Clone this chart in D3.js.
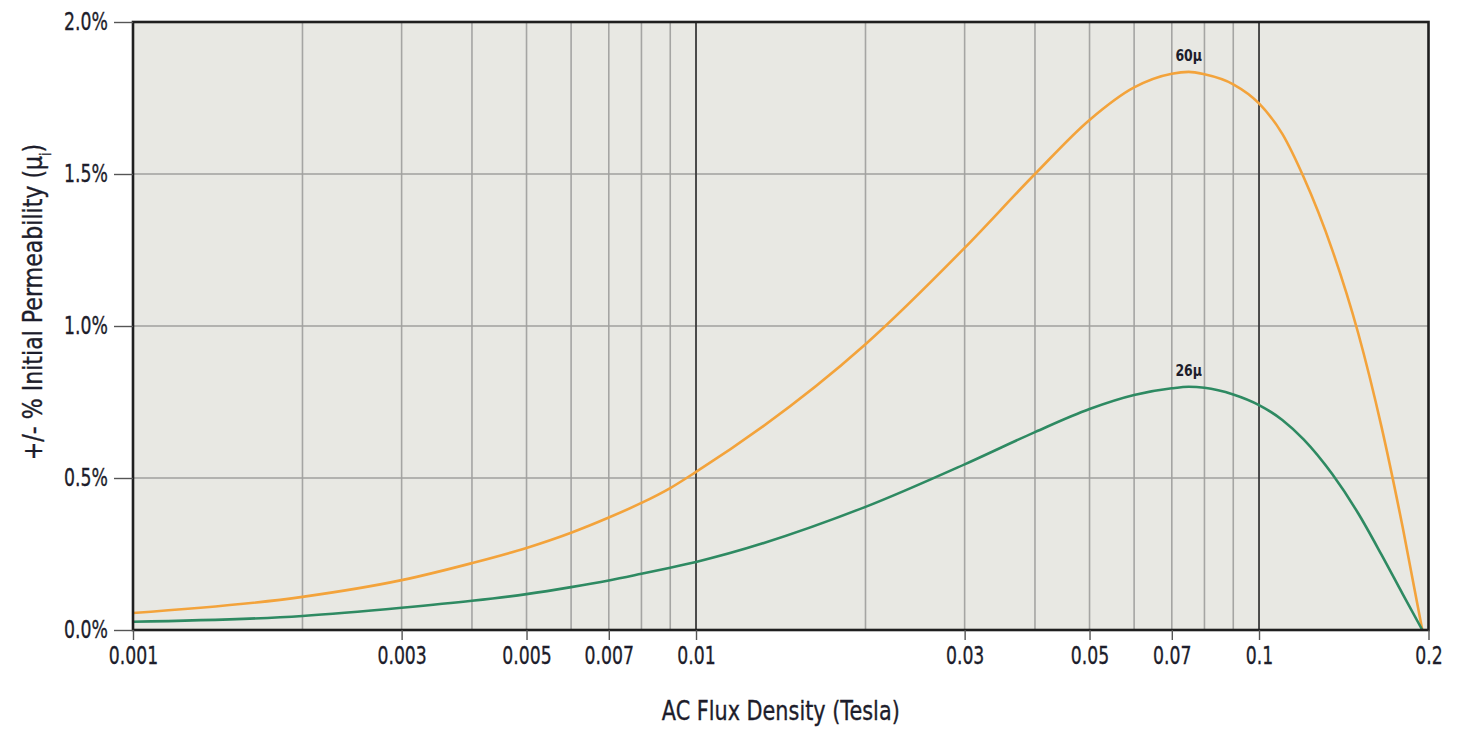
<!DOCTYPE html>
<html lang="en">
<head>
  <meta charset="UTF-8">
  <title>Permeability vs AC Flux Density</title>
  <script src="https://d3js.org/d3.v7.min.js"></script>
  <style>
    body {
      margin: 0;
      background: #ffffff;
    }
    svg { display: block; }
    text {
      font-family: "DejaVu Sans", sans-serif;
      fill: #1d1d2b;
      stroke: #1d1d2b;
      stroke-width: 0.35px;
    }
    .tick text {
      font-size: 24px;
      font-family: "DejaVu Sans", sans-serif;
    }
    .axis-title {
      font-size: 26px;
    }
    .curve-label {
      font-size: 16px;
      font-weight: bold;
      stroke: none;
    }
  </style>
</head>
<body>
  <svg width="1462" height="729"></svg>
  <script>
    // AC flux density (Tesla)
    const fluxDensity = [0.001, 0.002, 0.003, 0.004, 0.005, 0.006, 0.007, 0.008, 0.009, 0.01,
      0.02, 0.03, 0.04, 0.05, 0.06, 0.07, 0.075, 0.08, 0.09, 0.1,
      0.11, 0.12, 0.135, 0.15, 0.165, 0.18, 0.195];
    // % change of initial permeability
    const perm60 = [0.056, 0.109, 0.164, 0.22, 0.27, 0.32, 0.37, 0.418, 0.467, 0.52,
      0.94, 1.257, 1.5, 1.678, 1.785, 1.83, 1.836, 1.828, 1.795, 1.732,
      1.632, 1.49, 1.249, 0.977, 0.669, 0.337, 0];
    const perm26 = [0.027, 0.046, 0.073, 0.096, 0.118, 0.141, 0.163, 0.185, 0.205, 0.224,
      0.405, 0.545, 0.651, 0.727, 0.773, 0.795, 0.8, 0.797, 0.775, 0.74,
      0.691, 0.627, 0.512, 0.384, 0.248, 0.118, 0];
    const seriesNames = ["60\u03bc", "26\u03bc"];
    const xTickLabels = [0.001, 0.003, 0.005, 0.007, 0.01, 0.03, 0.05, 0.07, 0.1, 0.2];
    const xMinorGrid = [0.002, 0.003, 0.004, 0.005, 0.006, 0.007, 0.008, 0.009,
      0.02, 0.03, 0.04, 0.05, 0.06, 0.07, 0.08, 0.09];
    const xMajorGrid = [0.01, 0.1];
    const yTicks = [0, 0.5, 1, 1.5, 2];

    const colors = ["#f3a33b", "#2e8a62"];
    const margin = {top: 22, right: 33.5, bottom: 99, left: 133};
    const width = 1462, height = 729;
    const squeeze = 0.72; // condensed look for the tick labels

    const svg = d3.select("svg");
    const x = d3.scaleLog().domain([0.001, 0.2]).range([margin.left, width - margin.right]);
    const y = d3.scaleLinear().domain([0, 2]).range([height - margin.bottom, margin.top]);

    // plot background
    svg.append("rect")
      .attr("x", x(0.001)).attr("y", y(2))
      .attr("width", x(0.2) - x(0.001)).attr("height", y(0) - y(2))
      .attr("fill", "#e8e8e3");

    // grid
    svg.append("g").selectAll("line")
      .data(xMinorGrid).enter().append("line")
      .attr("x1", d => x(d)).attr("x2", d => x(d))
      .attr("y1", y(0)).attr("y2", y(2))
      .attr("stroke", "#a5a5a3").attr("stroke-width", 1.6);

    svg.append("g").selectAll("line")
      .data(yTicks.slice(1, -1)).enter().append("line")
      .attr("x1", x(0.001)).attr("x2", x(0.2))
      .attr("y1", d => y(d)).attr("y2", d => y(d))
      .attr("stroke", "#a0a09e").attr("stroke-width", 1.6);

    svg.append("g").selectAll("line")
      .data(xMajorGrid).enter().append("line")
      .attr("x1", d => x(d)).attr("x2", d => x(d))
      .attr("y1", y(0)).attr("y2", y(2))
      .attr("stroke", "#3a3a3a").attr("stroke-width", 1.8);

    // curves
    const line = d3.line()
      .x(d => x(d[0]))
      .y(d => y(d[1]))
      .curve(d3.curveMonotoneX);

    [perm60, perm26].forEach((vals, i) => {
      const pts = fluxDensity.map((f, j) => [f, vals[j]]);
      svg.append("path")
        .datum(pts)
        .attr("fill", "none")
        .attr("stroke", colors[i])
        .attr("stroke-width", 2.6)
        .attr("d", line);

      const peak = d3.maxIndex(vals);
      svg.append("text")
        .attr("class", "curve-label")
        .attr("transform", `translate(${x(fluxDensity[peak])},${y(vals[peak]) - 11}) scale(0.78,1)`)
        .attr("text-anchor", "middle")
        .text(seriesNames[i]);
    });

    // frame
    svg.append("rect")
      .attr("x", x(0.001)).attr("y", y(2))
      .attr("width", x(0.2) - x(0.001)).attr("height", y(0) - y(2))
      .attr("fill", "none")
      .attr("stroke", "#1f1f1f").attr("stroke-width", 2.6);

    // axes
    const xAxis = svg.append("g")
      .attr("transform", `translate(0,${y(0)})`)
      .call(d3.axisBottom(x).tickValues(xTickLabels).tickSize(10).tickPadding(7)
        .tickFormat(d => String(d)));
    xAxis.select(".domain").remove();
    xAxis.selectAll(".tick line").attr("stroke", "#555").attr("stroke-width", 1.4);
    xAxis.selectAll(".tick text").attr("transform", `scale(${squeeze},1)`);

    const yAxis = svg.append("g")
      .attr("transform", `translate(${x(0.001)},0)`)
      .call(d3.axisLeft(y).tickValues(yTicks).tickSize(19).tickPadding(5)
        .tickFormat(d => d.toFixed(1) + "%"));
    yAxis.select(".domain").remove();
    yAxis.selectAll(".tick line").attr("stroke", "#555").attr("stroke-width", 1.4);
    yAxis.selectAll(".tick text")
      .attr("x", -25 / squeeze)
      .attr("transform", `scale(${squeeze},1)`);

    // axis titles
    svg.append("text")
      .attr("class", "axis-title")
      .attr("transform", `translate(${(x(0.001) + x(0.2)) / 2},720) scale(0.8,1)`)
      .attr("text-anchor", "middle")
      .text("AC Flux Density (Tesla)");

    const yt = svg.append("text")
      .attr("class", "axis-title")
      .attr("font-size", "28px")
      .attr("transform", `translate(42,302) rotate(-90) scale(0.85,1)`)
      .attr("text-anchor", "middle");
    yt.append("tspan").text("+/- % Initial Permeability (\u03bc");
    yt.append("tspan").attr("baseline-shift", "sub").attr("font-size", "15px").text("i");
    yt.append("tspan").text(")");
  </script>
</body>
</html>
